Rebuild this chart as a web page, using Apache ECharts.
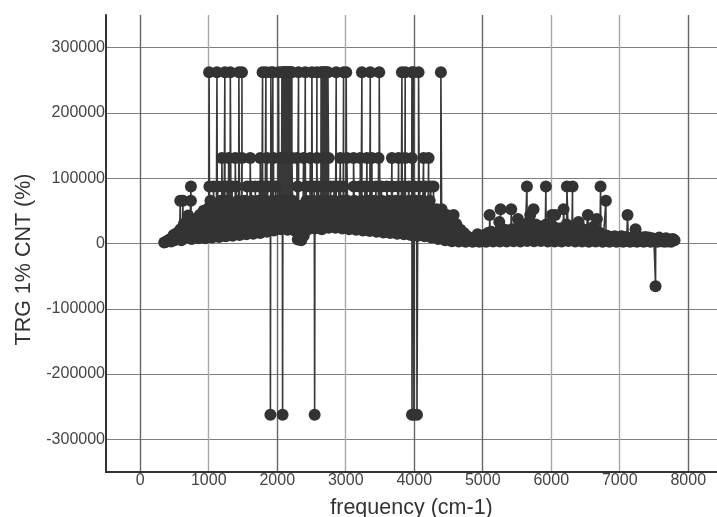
<!DOCTYPE html>
<html><head><meta charset="utf-8">
<style>html,body{margin:0;padding:0;background:#fff}#c{width:717px;height:517px}</style>
<script src="https://cdn.jsdelivr.net/npm/echarts@6/dist/echarts.min.js"></script>
</head><body><div id="c"></div>
<script>
const xTicks=[0,1000,2000,3000,4000,5000,6000,7000,8000];
const yTicks=[-300000,-200000,-100000,0,100000,200000,300000];
const baseFreq=[
350,375,400,425,450,475,500,525,
550,575,600,625,650,675,700,725,
750,775,800,825,850,875,900,925,
950,975,1000,1025,1050,1075,1100,1125,
1150,1175,1200,1225,1250,1275,1300,1325,
1350,1375,1400,1425,1450,1475,1500,1525,
1550,1575,1600,1625,1650,1675,1700,1725,
1750,1775,1800,1825,1850,1875,1900,1925,
1950,1975,2000,2025,2050,2075,2100,2125,
2150,2175,2200,2225,2250,2275,2300,2325,
2350,2375,2400,2425,2450,2475,2500,2525,
2550,2575,2600,2625,2650,2675,2700,2725,
2750,2775,2800,2825,2850,2875,2900,2925,
2950,2975,3000,3025,3050,3075,3100,3125,
3150,3175,3200,3225,3250,3275,3300,3325,
3350,3375,3400,3425,3450,3475,3500,3525,
3550,3575,3600,3625,3650,3675,3700,3725,
3750,3775,3800,3825,3850,3875,3900,3925,
3950,3975,4000,4025,4050,4075,4100,4125,
4150,4175,4200,4225,4250,4275,4300,4325,
4350,4375,4400,4425,4450,4475,4500,4525,
4550,4575,4600,4625,4650,4675,4700,4725,
4750,4775,4800,4825,4850,4875,4900,4925,
4950,4975,5000,5025,5050,5075,5100,5125,
5150,5175,5200,5225,5250,5275,5300,5325,
5350,5375,5400,5425,5450,5475,5500,5525,
5550,5575,5600,5625,5650,5675,5700,5725,
5750,5775,5800,5825,5850,5875,5900,5925,
5950,5975,6000,6025,6050,6075,6100,6125,
6150,6175,6200,6225,6250,6275,6300,6325,
6350,6375,6400,6425,6450,6475,6500,6525,
6550,6575,6600,6625,6650,6675,6700,6725,
6750,6775,6800,6825,6850,6875,6900,6925,
6950,6975,7000,7025,7050,7075,7100,7125,
7150,7175,7200,7225,7250,7275,7300,7325,
7350,7375,7400,7425,7450,7475,7500,7525,
7550,7575,7600,7625,7650,7675,7700,7725,
7750,7775,7800];
const baseValue=[
1500,2500,3500,6000,3000,9000,5000,14000,
8000,17000,5000,24000,30000,9000,43000,20000,
7000,32000,18000,38000,8000,44000,25000,50000,
8000,52000,30000,65536,9000,43690,26000,52429,
10000,65536,30000,52429,11000,65536,28000,43690,
12000,52429,32000,65536,13000,43690,30000,65536,
14000,52429,34000,65536,15000,43690,32000,65536,
16000,52429,33000,65536,18000,43690,34000,65536,
20000,52429,36000,65536,22000,43690,35000,65536,
21000,52429,36000,65536,20000,43690,6000,52429,
5000,43690,24000,65536,22000,52429,36000,65536,
23000,52429,35000,65536,22000,43690,36000,65536,
24000,52429,37000,65536,24000,43690,36000,65536,
23000,65536,37000,65536,22000,52429,36000,65536,
21000,52429,35000,65536,20000,43690,34000,65536,
19000,52429,33000,65536,18000,43690,32000,65536,
17000,52429,32000,65536,16000,43690,30000,65536,
15000,52429,30000,65536,14000,43690,28000,65536,
13000,52429,28000,65536,12000,43690,26000,65536,
11000,52429,26000,65536,9000,43690,24000,52429,
7000,43690,52429,37449,5000,43690,15000,26000,
3500,43690,10000,26000,3000,21000,7000,16000,
2500,11000,5000,8000,2500,7000,4000,14000,
2500,10000,4500,13000,2500,16000,6000,18000,
3000,12000,5000,18000,3000,14000,7000,21000,
3000,16000,6000,22000,3500,20000,8000,26000,
3000,22000,8000,29000,4000,32768,10000,26000,
3500,29000,9000,26000,4000,24000,8000,29000,
3000,21000,7000,26000,3000,18000,6000,21000,
3000,24000,8000,29000,4000,26000,8000,21000,
3000,18000,6000,24000,3000,21000,7000,18000,
2500,21000,6000,26000,3000,16000,6000,14000,
2500,13000,5000,11000,2500,10000,4500,11000,
2500,9000,4000,11000,2500,10000,4000,8000,
2500,9000,4000,13000,2500,10000,4000,9000,
2500,10000,4000,9000,2500,8000,3500,7000,
2500,9000,3500,7000,2500,8000,3000,6000,
2500,7000,5000];
const fillFreq=[
462,487,512,537,562,587,612,637,662,687,712,737,762,787,812,837,862,887,912,937,962,987,
1012,1037,1062,1087,1112,1137,1162,1187,
1212,1237,1262,1287,1312,1337,1362,1387,
1412,1437,1462,1487,1512,1537,1562,1587,
1612,1637,1662,1687,1712,1737,1762,1787,
1812,1837,1862,1887,1912,1937,1962,1987,
2012,2037,2062,2087,2112,2137,2162,2187,
2212,2237,2262,2287,2312,2337,2362,2387,
2412,2437,2462,2487,2512,2537,2562,2587,
2612,2637,2662,2687,2712,2737,2762,2787,
2812,2837,2862,2887,2912,2937,2962,2987,
3012,3037,3062,3087,3112,3137,3162,3187,
3212,3237,3262,3287,3312,3337,3362,3387,
3412,3437,3462,3487,3512,3537,3562,3587,
3612,3637,3662,3687,3712,3737,3762,3787,
3812,3837,3862,3887,3912,3937,3962,3987,
4012,4037,4062,4087,4112,4137,4162,4187,
4212,4237,4262,4287,4312,4337,4362,4387,
4412,4437,4462,4487,4512,4537,4562,4587,4612,4637,4662,4687,
4812,4862,4912,4962,5012,5062,5112,5162,5212,5262,5312,5362,5412,5462,5512,5562,
5612,5662,5712,5762,5812,5862,5912,5962,6012,6062,6112,6162,6212,6262,6312,6362,
6412,6462,6512,6562,6612,6662,6712,6762,6812,6862,6912,6962];
const fillValue=[
8000,13000,9000,16000,10000,22000,14000,30000,12000,33000,26000,18000,30000,11000,36000,22000,42000,14000,30000,47000,20000,38000,
56000,45000,31000,19000,58000,46000,33000,21000,
59000,44000,32000,20000,60000,47000,34000,22000,
58000,46000,33000,23000,60000,45000,35000,24000,
59000,47000,34000,25000,60000,46000,36000,26000,
60000,48000,35000,27000,61000,46000,37000,28000,
60000,47000,38000,29000,61000,48000,36000,29000,
60000,46000,37000,30000,58000,28000,18000,12000,
45000,60000,36000,29000,61000,47000,38000,30000,
60000,48000,37000,31000,61000,47000,38000,31000,
60000,48000,38000,30000,62000,47000,37000,31000,
60000,46000,38000,30000,61000,47000,36000,29000,
60000,46000,37000,28000,59000,45000,35000,27000,
60000,47000,34000,26000,58000,46000,35000,25000,
59000,45000,33000,24000,60000,46000,34000,23000,
58000,44000,32000,22000,59000,45000,33000,21000,
57000,44000,31000,20000,58000,42000,30000,19000,
55000,42000,30000,17000,48000,36000,24000,14000,
40000,30000,20000,11000,34000,24000,15000,9000,30000,18000,11000,8000,
8000,6000,9000,8000,11000,9000,14000,10000,16000,12000,17000,13000,19000,15000,20000,16000,
22000,17000,24000,18000,22000,15000,23000,16000,21000,14000,23000,17000,24000,18000,22000,15000,
19000,14000,20000,15000,18000,12000,16000,10000,12000,8000,10000,7000];
const peaks262144=[1005,1120,1235,1315,1440,1485,1786,1834,1907,1936,2019,2068,2085,2100,2115,2130,2145,2160,2175,2190,2205,2214,2311,2409,2506,2579,2640,2660,2680,2700,2720,2740,2861,2968,3007,3236,3358,3489,3820,3868,3966,3990,4063,4389];
const peaks131072=[1192,1290,1387,1484,1606,1752,1849,1946,2043,2106,2214,2287,2384,2482,2579,2676,2749,2920,3017,3114,3212,3309,3382,3479,3674,3771,3868,3966,4136,4209];
const peaks87381=[740,1010,1070,1130,1200,1270,1340,1400,1560,1620,1680,1740,1800,1860,1920,1980,2300,2420,2480,2540,2600,2680,2780,2830,2900,2968,3120,3200,3280,3360,3440,3520,3600,3680,3760,3840,3920,4000,4080,4160,4240,4282,5645,5922,6229,6311,6720];
const peaks65536=[584,623,740,6798];
const peaks52429=[5260,5416,5742,6180];
const peaks43690=[5100,5693,6010,6058,6535,7114];
const peaks37449=[5514,6667];
const peaks32768=[5241,6399];
const peaks21845=[7231];
const peaksNeg262144=[1900,2078,2546,3967,3995,4040];
const peaksNeg65536=[7523];

const pts=baseFreq.map((f,i)=>[f,baseValue[i]]);
fillFreq.forEach((f,i)=>pts.push([f,fillValue[i]]));
[[peaks262144,262144],[peaks131072,131072],[peaks87381,87381],[peaks65536,65536],[peaks52429,52429],[peaks43690,43690],[peaks37449,37449],[peaks32768,32768],[peaks21845,21845],[peaksNeg262144,-262144],[peaksNeg65536,-65536]]
 .forEach(([xs,v])=>xs.forEach(x=>pts.push([x,v])));
pts.sort((a,b)=>a[0]-b[0]);

const font='"Liberation Sans",Arial,sans-serif';
const dark='#666',light='#a8a8a8';
const chart=echarts.init(document.getElementById('c'));
chart.setOption({
 animation:false,
 backgroundColor:'#fff',
 grid:{left:106,right:0,top:15,bottom:45,containLabel:false,outerBoundsMode:'none'},
 xAxis:{type:'value',min:-500,max:8420,
  name:'frequency (cm-1)',nameLocation:'middle',nameGap:25,
  nameTextStyle:{fontFamily:font,fontSize:21.5,color:'#333'},
  axisLine:{onZero:false,lineStyle:{color:'#333',width:2}},
  axisTick:{show:false,customValues:xTicks},
  axisLabel:{customValues:xTicks,fontFamily:font,fontSize:16,color:'#444',margin:1,formatter:v=>String(v)},
  splitLine:{show:true,lineStyle:{color:[dark,light,dark,light,dark,dark,light,light,dark],width:1.4}}},
 yAxis:{type:'value',min:-350000,max:350000,
  name:'TRG 1% CNT (%)',nameLocation:'middle',nameGap:70,
  nameTextStyle:{fontFamily:font,fontSize:21.5,color:'#333',padding:[0,32,0,0]},
  axisLine:{onZero:false,lineStyle:{color:'#333',width:2}},
  axisTick:{show:false,customValues:yTicks},
  axisLabel:{customValues:yTicks,fontFamily:font,fontSize:16,color:'#444',margin:1,formatter:v=>String(v)},
  splitLine:{show:true,lineStyle:{color:'#808080',width:1}}},
 series:[
  {type:'line',data:pts,showSymbol:false,symbol:'none',sampling:false,clip:false,lineStyle:{color:'#383838',width:1.6},z:2},
  {type:'scatter',data:pts,symbol:'circle',symbolSize:12,large:false,clip:false,itemStyle:{color:'#333',opacity:1},z:3}
 ]
});
</script></body></html>
